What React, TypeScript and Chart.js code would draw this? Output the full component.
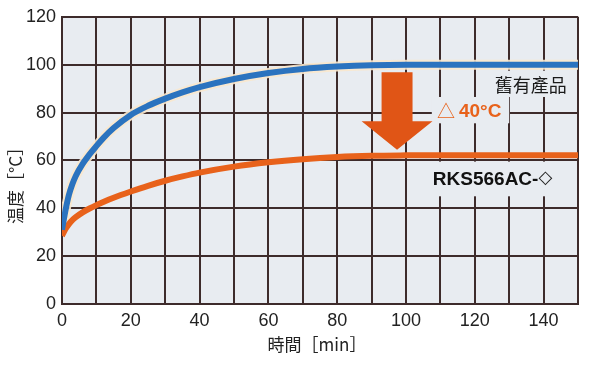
import React, { useEffect, useRef } from "react";
import { Chart, registerables } from "chart.js";

Chart.register(...registerables);

// ---- data ----
const timeMin = [0, 1, 2, 3, 4, 6, 8, 10, 12, 15, 20, 25, 30, 35, 40, 50, 60, 70, 80, 90, 100, 110, 120, 130, 140, 150];
const oldProductTemp = [31, 39, 45.5, 50, 53.5, 58.5, 62.5, 66, 69.3, 73.5, 79, 82.8, 85.8, 88.4, 90.6, 94, 96.5, 98.2, 99.2, 99.8, 100, 100, 100, 100, 100, 100];
const rksTemp = [28.5, 31.3, 33.4, 35, 36.3, 38.3, 39.9, 41.3, 42.6, 44.4, 47, 49.4, 51.5, 53.3, 54.9, 57.4, 59.2, 60.5, 61.4, 61.9, 62.1, 62.2, 62.2, 62.2, 62.2, 62.2];

const xLabelStep = 20;
const seriesNames = ["舊有產品", "RKS566AC-◇"];
const deltaLabel = ["△", "40°C"];
const xTitle = "時間［min］";
const yTitle = "温度［°C］";

// arrow annotation in data units
const arrowX = 97.4;
const arrowTopY = 96.8;
const arrowHeadY = 76.4;
const arrowTipY = 64.4;
const arrowShaftHalf = 4.5;
const arrowHeadHalf = 10.3;

const GRID = "#3d2b2b";
const PLOT_BG = "#e8ecf1";
const BLUE = "#2b73bf";
const ORANGE = "#e8621b";
const ARROW = "#e05516";

const toPts = (ys: number[]) => timeMin.map((x, i) => ({ x, y: ys[i] }));

const decorPlugin = {
  id: "decor",
  beforeDraw(chart: any) {
    const { ctx, chartArea: a } = chart;
    ctx.save();
    ctx.fillStyle = "#ffffff";
    ctx.fillRect(0, 0, chart.width, chart.height);
    ctx.fillStyle = PLOT_BG;
    ctx.fillRect(a.left, a.top, a.right - a.left, a.bottom - a.top);
    ctx.restore();
  },
  beforeDatasetsDraw(chart: any) {
    const { ctx, scales } = chart;
    const xs = scales.x, ys = scales.y;
    ctx.save();
    ctx.fillStyle = PLOT_BG;
    const box = (x0: number, x1: number, y0: number, y1: number) => {
      const px0 = xs.getPixelForValue(x0), px1 = xs.getPixelForValue(x1);
      const py0 = ys.getPixelForValue(y0), py1 = ys.getPixelForValue(y1);
      ctx.fillRect(px0, py1, px1 - px0, py0 - py1);
    };
    box(124.5, 147.5, 86.5, 97.5);
    box(107.5, 130, 75.5, 86.5);
    box(106.5, 146.5, 45, 59.5);
    ctx.restore();
  },
  afterDatasetsDraw(chart: any) {
    const { ctx, scales, chartArea: a } = chart;
    const xs = scales.x, ys = scales.y;
    ctx.save();
    const cx = xs.getPixelForValue(arrowX);
    const sh = xs.getPixelForValue(arrowX + arrowShaftHalf) - cx;
    const hh = xs.getPixelForValue(arrowX + arrowHeadHalf) - cx;
    const yTop = ys.getPixelForValue(arrowTopY);
    const yHead = ys.getPixelForValue(arrowHeadY);
    const yTip = ys.getPixelForValue(arrowTipY);
    ctx.fillStyle = ARROW;
    ctx.beginPath();
    ctx.moveTo(cx - sh, yTop);
    ctx.lineTo(cx + sh, yTop);
    ctx.lineTo(cx + sh, yHead);
    ctx.lineTo(cx + hh, yHead);
    ctx.lineTo(cx, yTip);
    ctx.lineTo(cx - hh, yHead);
    ctx.lineTo(cx - sh, yHead);
    ctx.closePath();
    ctx.fill();

    ctx.textBaseline = "middle";
    ctx.textAlign = "center";
    ctx.fillStyle = "#1a1a1a";
    ctx.font = "18px 'Noto Sans CJK TC', sans-serif";
    ctx.fillText(seriesNames[0], xs.getPixelForValue(136.3), ys.getPixelForValue(91.4));

    ctx.textAlign = "left";
    let lx = xs.getPixelForValue(109);
    const ly = ys.getPixelForValue(80.7);
    ctx.fillStyle = ORANGE;
    ctx.font = "18px 'Noto Sans CJK JP', sans-serif";
    ctx.fillText(deltaLabel[0], lx, ly);
    lx += ctx.measureText(deltaLabel[0]).width + 4;
    ctx.font = "bold 19px 'Liberation Sans', Arial, sans-serif";
    ctx.fillText(deltaLabel[1], lx, ly + 1);

    ctx.fillStyle = "#111";
    ctx.font = "bold 19px 'Liberation Sans', Arial, sans-serif";
    const rx = xs.getPixelForValue(107.8);
    const ry = ys.getPixelForValue(52.5);
    const main = seriesNames[1].slice(0, -1);
    ctx.fillText(main, rx, ry + 1);
    const w = ctx.measureText(main).width;
    ctx.font = "18px 'DejaVu Sans', sans-serif";
    ctx.fillStyle = "#222";
    ctx.fillText(seriesNames[1].slice(-1), rx + w, ry);

    ctx.fillStyle = "#222";
    ctx.font = "17px 'Noto Sans CJK JP', sans-serif";
    ctx.textAlign = "center";
    ctx.fillText(xTitle, (a.left + a.right) / 2 - 3, a.bottom + 41);
    ctx.translate(16, (a.top + a.bottom) / 2 + 21);
    ctx.rotate(-Math.PI / 2);
    ctx.fillText(yTitle, 0, 0);
    ctx.restore();
  },
};

export default function App() {
  const ref = useRef<HTMLCanvasElement | null>(null);
  useEffect(() => {
    if (!ref.current) return;
    const chart = new Chart(ref.current, {
      type: "line",
      data: {
        datasets: [
          {
            label: seriesNames[0],
            data: toPts(oldProductTemp),
            borderColor: BLUE,
            borderWidth: 6,
            pointRadius: 0,
            cubicInterpolationMode: "monotone",
            order: 1,
          },
          {
            label: seriesNames[0] + " halo",
            data: toPts(oldProductTemp),
            borderColor: "rgba(250,232,205,0.9)",
            borderWidth: 10,
            pointRadius: 0,
            cubicInterpolationMode: "monotone",
            order: 3,
          },
          {
            label: seriesNames[1],
            data: toPts(rksTemp),
            borderColor: ORANGE,
            borderWidth: 6,
            pointRadius: 0,
            cubicInterpolationMode: "monotone",
            order: 2,
          },
        ],
      },
      options: {
        animation: false,
        responsive: false,
        layout: { padding: { left: 0, right: 22, top: 15, bottom: 0 } },
        plugins: { legend: { display: false }, tooltip: { enabled: false } },
        scales: {
          x: {
            type: "linear",
            min: 0,
            max: 150,
            afterFit: (s: any) => { s.height = 72; },
            grid: { color: GRID, lineWidth: 2, drawTicks: false },
            border: { color: GRID, width: 2 },
            ticks: {
              stepSize: 10,
              padding: 6,
              color: "#222",
              font: { family: "'Liberation Sans', Arial, sans-serif", size: 18 },
              maxRotation: 0,
              autoSkip: false,
              callback: (v: any) => (Number(v) % xLabelStep === 0 ? String(v) : ""),
            },
          },
          y: {
            min: 0,
            max: 120,
            afterFit: (s: any) => { s.width = 62; },
            grid: { color: GRID, lineWidth: 2, drawTicks: false },
            border: { color: GRID, width: 2 },
            ticks: {
              stepSize: 20,
              padding: 6,
              color: "#222",
              font: { family: "'Liberation Sans', Arial, sans-serif", size: 18 },
            },
          },
        },
      },
      plugins: [decorPlugin],
    } as any);
    return () => chart.destroy();
  }, []);
  return (
    <div style={{ position: "absolute", left: 0, top: 0, width: 600, height: 376 }}>
      <canvas ref={ref} width={600} height={376} style={{ display: "block" }} />
    </div>
  );
}
